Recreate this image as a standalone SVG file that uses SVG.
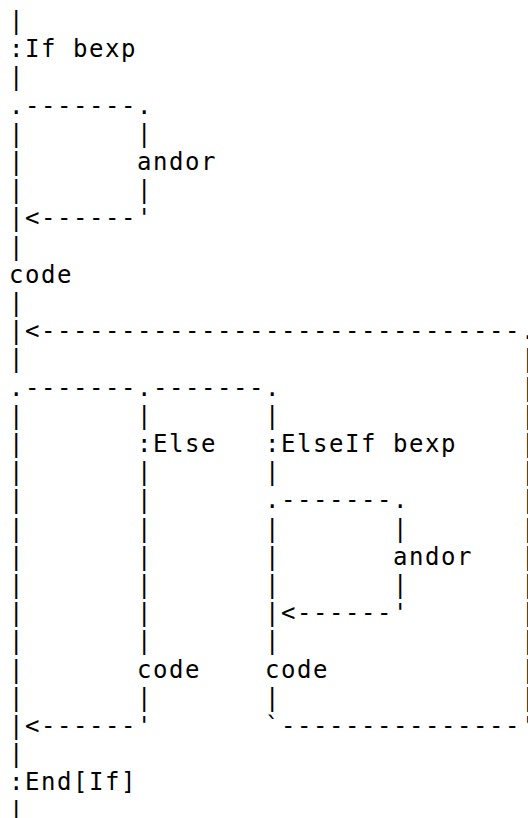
<svg xmlns="http://www.w3.org/2000/svg" width="528" height="818" viewBox="0 0 528 818" xml:space="preserve">
<style>
.t { font-family: "DejaVu Sans Mono", "Liberation Mono", monospace; font-size: 24px; letter-spacing: 1.55px; fill: #000; white-space: pre; }
</style>
<rect x="0" y="0" width="528" height="818" fill="#fff"/>
<g id="connectors">
<text class="t" x="9.1" y="29">|</text>
<text class="t" x="9.1" y="85.4">|</text>
<text class="t" x="9.1" y="113.6">.-------.</text>
<text class="t" x="9.1" y="141.8">|       |</text>
<text class="t" x="9.1" y="170">|</text>
<text class="t" x="9.1" y="198.2">|       |</text>
<text class="t" x="9.1" y="226.4">|&lt;------'</text>
<text class="t" x="9.1" y="254.6">|</text>
<text class="t" x="9.1" y="311">|</text>
<text class="t" x="9.1" y="339.2">|&lt;------------------------------.</text>
<text class="t" x="9.1" y="367.4">|                               |</text>
<text class="t" x="9.1" y="395.6">.-------.-------.               |</text>
<text class="t" x="9.1" y="423.8">|       |       |               |</text>
<text class="t" x="9.1" y="452">|</text>
<text class="t" x="521.1" y="452">|</text>
<text class="t" x="9.1" y="480.2">|       |       |               |</text>
<text class="t" x="9.1" y="508.4">|       |       .-------.       |</text>
<text class="t" x="9.1" y="536.6">|       |       |       |       |</text>
<text class="t" x="9.1" y="564.8">|       |       |</text>
<text class="t" x="521.1" y="564.8">|</text>
<text class="t" x="9.1" y="593">|       |       |       |       |</text>
<text class="t" x="9.1" y="621.2">|       |       |&lt;------'       |</text>
<text class="t" x="9.1" y="649.4">|       |       |               |</text>
<text class="t" x="9.1" y="677.6">|</text>
<text class="t" x="521.1" y="677.6">|</text>
<text class="t" x="9.1" y="705.8">|       |       |               |</text>
<text class="t" x="9.1" y="734">|&lt;------'       `---------------'</text>
<text class="t" x="9.1" y="762.2">|</text>
<text class="t" x="9.1" y="818.6">|</text>
</g>
<g id="n-if"><text class="t" x="9.1" y="57.2">:If bexp</text></g>
<g id="n-andor1"><text class="t" x="137.1" y="170">andor</text></g>
<g id="n-code1"><text class="t" x="9.1" y="282.8">code</text></g>
<g id="n-else"><text class="t" x="137.1" y="452">:Else</text></g>
<g id="n-elseif"><text class="t" x="265.1" y="452">:ElseIf bexp</text></g>
<g id="n-andor2"><text class="t" x="393.1" y="564.8">andor</text></g>
<g id="n-code2"><text class="t" x="137.1" y="677.6">code</text></g>
<g id="n-code3"><text class="t" x="265.1" y="677.6">code</text></g>
<g id="n-end"><text class="t" x="9.1" y="790.4">:End[If]</text></g>
</svg>
